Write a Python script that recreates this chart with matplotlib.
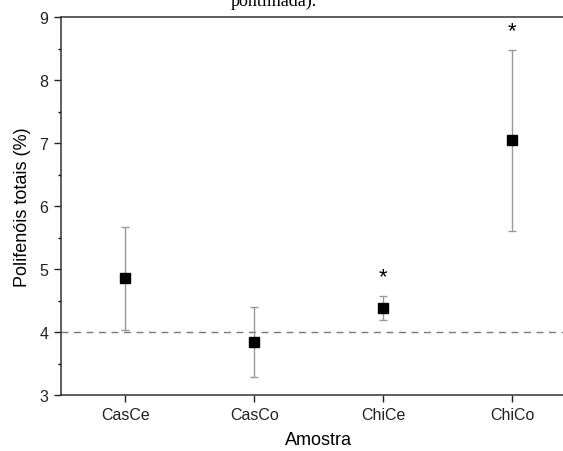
import matplotlib.pyplot as plt
from matplotlib.ticker import MultipleLocator

plt.rcParams['font.family'] = ['Liberation Sans', 'DejaVu Sans']

# data
amostras = ['CasCe', 'CasCo', 'ChiCe', 'ChiCo']
media = [4.85, 3.84, 4.38, 7.04]
desvio = [0.82, 0.55, 0.19, 1.44]
signif = [False, False, True, True]
star_y = [None, None, 4.88, 8.78]
ref_line = 4.0

fig = plt.figure(figsize=(5.63, 4.52), dpi=100)
# axes runs past the right edge like in the cropped original
ax = fig.add_axes([61/563, 56/452, 515.5/563, 378/452])

x = list(range(1, len(amostras) + 1))
ax.axhline(ref_line, color='#7a7a7a', lw=1.0, ls=(0, (5, 4)), zorder=1)
ax.errorbar(x, media, yerr=desvio, fmt='none', ecolor='#9a9a9a',
            elinewidth=1.0, capsize=3, capthick=1.0, zorder=2)
ax.plot(x, media, 's', color='black', ms=6.5, zorder=3)

for xi, s, sy in zip(x, signif, star_y):
    if s:
        ax.text(xi, sy, '*', ha='center', va='center', fontsize=16,
                color='black')

ax.set_xlim(0.5, 4.5)
ax.set_ylim(3, 9)
ax.set_xticks(x)
ax.set_xticklabels(amostras)
ax.yaxis.set_major_locator(MultipleLocator(1))
ax.yaxis.set_minor_locator(MultipleLocator(0.5))

ax.tick_params(axis='both', which='major', direction='out', length=5,
               width=1.0, labelsize=11.5, colors='#222222', pad=4)
ax.tick_params(axis='y', which='minor', direction='out', length=2.5,
               width=1.0)
ax.tick_params(top=False, right=False)
for sp in ax.spines.values():
    sp.set_linewidth(1.1)
    sp.set_color('#333333')

ax.set_xlabel('Amostra', fontsize=13, labelpad=6)
ax.set_ylabel('Polifenóis totais (%)', fontsize=13, labelpad=6)

# leftover caption from the page above, cut at the top edge
fig.text(273.5/563, 1 - 6/452, 'pontilhada).', ha='center', va='baseline',
         fontsize=13, family='Liberation Serif', color='black')

fig.savefig('out.png', dpi=100)
